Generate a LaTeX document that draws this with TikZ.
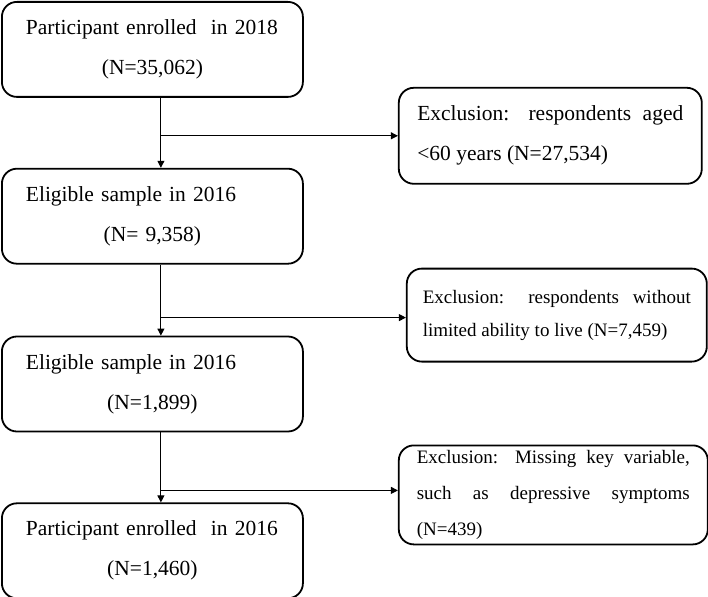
\documentclass[tikz,border=0pt]{standalone}
\usepackage{fontspec}
\setmainfont{Liberation Serif}
\usetikzlibrary{positioning, arrows.meta}
\newcommand{\boxlines}[2]{#1\hfill\null\\#2}

\begin{document}
\begin{tikzpicture}[
            node distance=70pt,
            mainbox/.style={rectangle, draw, line width=1.8pt, rounded corners=15pt,
                        minimum height=95pt, text width=253pt, inner xsep=24pt,
                        inner ysep=0pt, align=center,
                        font=\fontsize{21.5}{40}\selectfont},
            exclbox/.style={rectangle, draw, line width=1.8pt, rounded corners=15pt,
                        inner ysep=0pt, align=justify},
            exclfont/.style 2 args={font={\fontsize{#1}{#2}\selectfont
                        \tolerance=10000\relax\hyphenpenalty=10000\relax}},
            arrow/.style={-{Triangle[length=7pt,width=7pt]}, line width=1pt}
        ]
            \useasboundingbox (0,0) rectangle (708pt,-596pt);

            \node[mainbox, anchor=north west] (enrolled) at (1pt,-1pt)
                {\boxlines{Participant enrolled\ \ in 2018}{(N=35,062)}};
            \node[mainbox, below=of enrolled] (eligible)
                {\boxlines{Eligible sample in 2016}{(N= 9,358)}};
            \node[mainbox, below=71pt of eligible] (limited)
                {\boxlines{Eligible sample in 2016}{(N=1,899)}};
            \node[mainbox, below=of limited] (final)
                {\boxlines{Participant enrolled\ \ in 2016}{(N=1,460)}};

            % branch points on the main line
            \coordinate (j1) at ([xshift=8.5pt, yshift=-38pt]enrolled.south);
            \coordinate (j2) at ([xshift=8.5pt, yshift=-53pt]eligible.south);
            \coordinate (j3) at ([xshift=8.5pt, yshift=-58pt]limited.south);

            \node[exclbox, right=237pt of j1, text width=266pt, inner xsep=18.5pt,
                  minimum height=96pt, exclfont={21.5}{40}] (exage)
                {Exclusion: respondents aged <60 years (N=27,534)};
            \node[exclbox, right=245pt of j2, yshift=2.5pt, text width=268pt, inner xsep=16pt,
                  minimum height=93pt, exclfont={19}{33}] (exability)
                {Exclusion: respondents without limited ability to live (N=7,459)};
            \node[exclbox, right=237pt of j3, yshift=-4.5pt, text width=273pt, inner xsep=18pt,
                  minimum height=99pt, exclfont={19}{36}] (exmissing)
                {Exclusion: Missing key variable, such as depressive symptoms (N=439)};

            \draw[arrow] ([xshift=8.5pt]enrolled.south) -- ([xshift=8.5pt]eligible.north);
            \draw[arrow] ([xshift=8.5pt]eligible.south) -- ([xshift=8.5pt]limited.north);
            \draw[arrow] ([xshift=8.5pt]limited.south) -- ([xshift=8.5pt]final.north);

            \draw[arrow] (j1) -- (j1 -| exage.west);
            \draw[arrow] (j2) -- (j2 -| exability.west);
            \draw[arrow] (j3) -- (j3 -| exmissing.west);
        \end{tikzpicture}
\end{document}
